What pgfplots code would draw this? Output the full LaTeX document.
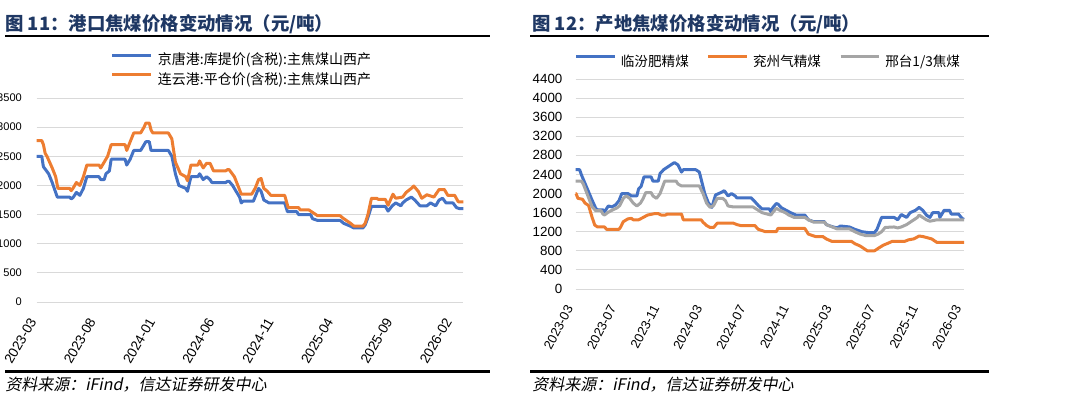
\documentclass[border=0pt]{standalone}
\usepackage{pgfplots}
\pgfplotsset{compat=1.18}
\usepackage{fontspec}
\setmainfont{Liberation Sans}
\newfontfamily\cjk{Noto Sans CJK SC}
\newfontfamily\cjkit[FakeSlant=0.2]{Noto Sans CJK SC}
\definecolor{xblue}{RGB}{68,114,196}
\definecolor{xorange}{RGB}{237,125,49}
\definecolor{xgrey}{RGB}{165,165,165}
\definecolor{gridc}{RGB}{217,217,217}
\definecolor{navy}{RGB}{31,56,100}
\pgfplotsset{
  common/.style={
    scale only axis, anchor=south west,
    axis line style={draw=none}, major tick length=0pt,
    ymajorgrids, grid style={gridc, line width=0.75pt},
    /pgf/number format/assume math mode=true,
    /pgf/number format/1000 sep={},
    scaled y ticks=false,
    clip=false,
    legend cell align=left,
    legend image code/.code={\draw[##1, line width=2.25pt] (0pt,3.6pt) -- (28.9pt,3.6pt);},
    every axis plot/.append style={line width=2.25pt, line join=round, no marks},
  }
}
\begin{document}
\begin{tikzpicture}
\useasboundingbox (0,0) rectangle (817.5pt,-297.75pt);
% titles and rules
\node[anchor=west, inner sep=0pt, text=navy, font=\cjk\bfseries\fontsize{13.8}{15}\selectfont] at (3.75pt,-18.4pt) {图 11：港口焦煤价格变动情况（元/吨）};
\node[anchor=west, inner sep=0pt, text=navy, font=\cjk\bfseries\fontsize{13.8}{15}\selectfont] at (399pt,-18.4pt) {图 12：产地焦煤价格变动情况（元/吨）};
\draw[line width=2pt] (3.75pt,-27pt) -- (367.5pt,-27pt);
\draw[line width=2pt] (397.5pt,-27pt) -- (741.75pt,-27pt);
\draw[line width=2pt] (3.75pt,-278.8pt) -- (367.5pt,-278.8pt);
\draw[line width=2pt] (397.5pt,-278.8pt) -- (741.75pt,-278.8pt);
\node[anchor=west, inner sep=0pt, font=\cjkit\fontsize{12}{13}\selectfont] at (3.75pt,-288.2pt) {资料来源：iFind，信达证券研发中心};
\node[anchor=west, inner sep=0pt, font=\cjkit\fontsize{12}{13}\selectfont] at (399pt,-288.2pt) {资料来源：iFind，信达证券研发中心};

\begin{axis}[common,
  at={(27.4pt,-226.5pt)}, width=320.1pt, height=153pt,
  xmin=0, xmax=35.96, ymin=0, ymax=3500,
  ytick={0,500,...,3500}, xtick={0,5,...,35},
  xticklabels={2023-03,2023-08,2024-01,2024-06,2024-11,2025-04,2025-09,2026-02},
  yticklabel style={font=\fontsize{8.3}{10}\selectfont, xshift=-7.5pt},
  xticklabel style={font=\fontsize{10.2}{11}\selectfont, xshift=-1pt, yshift=-10pt, rotate=60, anchor=east},
  legend style={at={(axis description cs:0,1)}, anchor=south west, xshift=55.85pt, yshift=8.5pt, draw=none, fill=none, inner sep=0pt, outer sep=0pt, row sep=4.5pt, font=\cjk\fontsize{10.5}{12}\selectfont, nodes={inner sep=0pt}, /tikz/every odd column/.append style={column sep=4pt}},
]
\addplot[xblue] coordinates {(0,2500) (0.44,2500) (0.58,2320) (1.02,2200) (1.32,2050) (1.75,1800) (2.78,1800) (2.92,1770) (3.07,1790) (3.36,1880) (3.65,1830) (3.95,1950) (4.24,2150) (5.26,2150) (5.41,2100) (5.70,2100) (5.85,2200) (6.14,2250) (6.29,2450) (7.46,2450) (7.60,2350) (7.89,2450) (8.19,2600) (8.77,2600) (8.92,2650) (9.21,2750) (9.50,2750) (9.65,2600) (11.11,2600) (11.40,2500) (11.70,2200) (11.99,2000) (12.57,1950) (12.72,1900) (13.01,2150) (13.60,2150) (13.74,2200) (14.04,2100) (14.33,2150) (14.62,2100) (14.77,2050) (15.94,2050) (16.08,2070) (16.23,2070) (16.52,2000) (16.81,1900) (17.11,1800) (17.25,1700) (17.40,1730) (18.27,1730) (18.51,1850) (18.71,1950) (18.92,1900) (19.15,1750) (19.59,1700) (20.91,1700) (21.14,1550) (21.93,1550) (22.08,1500) (23.10,1500) (23.25,1430) (23.68,1400) (25.58,1400) (25.88,1350) (26.46,1300) (26.75,1270) (27.49,1270) (27.69,1320) (27.92,1450) (28.22,1640) (29.39,1640) (29.62,1560) (29.97,1650) (30.26,1700) (30.70,1650) (30.85,1700) (31.14,1750) (31.58,1800) (31.87,1750) (32.31,1650) (32.89,1650) (33.19,1700) (33.63,1650) (33.92,1750) (34.21,1780) (34.50,1700) (35.09,1700) (35.38,1620) (35.67,1600) (35.96,1600)};
\addlegendentry{京唐港:库提价(含税):主焦煤山西产}
\addplot[xorange] coordinates {(0,2770) (0.44,2770) (0.58,2700) (0.73,2550) (0.88,2500) (1.32,2300) (1.61,2150) (1.80,1950) (2.78,1950) (2.92,1910) (3.07,1950) (3.36,2050) (3.65,2000) (3.95,2150) (4.24,2350) (5.26,2350) (5.41,2300) (5.70,2400) (5.99,2500) (6.29,2700) (7.46,2700) (7.60,2600) (7.89,2750) (8.19,2900) (8.77,2900) (9.06,3000) (9.21,3070) (9.50,3070) (9.65,2950) (9.80,2900) (11.11,2900) (11.40,2800) (11.70,2400) (12.13,2200) (12.57,2150) (12.72,2080) (13.01,2350) (13.60,2350) (13.74,2420) (14.04,2300) (14.33,2380) (14.62,2380) (14.91,2250) (15.94,2250) (16.08,2270) (16.23,2270) (16.67,2150) (16.96,2000) (17.25,1850) (18.13,1850) (18.42,1950) (18.71,2100) (18.92,2120) (19.15,1950) (19.44,1900) (19.74,1830) (20.91,1830) (21.20,1620) (22.08,1620) (22.22,1580) (22.95,1580) (23.39,1520) (23.68,1480) (25.58,1480) (25.88,1430) (26.46,1350) (26.75,1300) (27.49,1300) (27.69,1350) (27.92,1500) (28.22,1780) (28.65,1780) (28.80,1760) (29.39,1760) (29.62,1660) (30.03,1850) (30.26,1780) (30.85,1800) (31.14,1880) (31.58,1950) (31.78,1990) (32.16,1900) (32.46,1780) (32.89,1840) (33.48,1800) (33.92,1930) (34.36,1930) (34.65,1830) (35.23,1830) (35.53,1720) (35.96,1720)};
\addlegendentry{连云港:平仓价(含税):主焦煤山西产}
\end{axis}

\begin{axis}[common,
  at={(431.8pt,-216.75pt)}, width=291.2pt, height=157.5pt,
  xmin=0, xmax=36, ymin=0, ymax=4400,
  ytick={0,400,...,4400}, xtick={0,4,...,36},
  xticklabels={2023-03,2023-07,2023-11,2024-03,2024-07,2024-11,2025-03,2025-07,2025-11,2026-03},
  yticklabel style={font=\fontsize{10}{11}\selectfont, xshift=-6.5pt},
  xticklabel style={font=\fontsize{9.7}{11}\selectfont, xshift=-3pt, yshift=-10pt, rotate=62, anchor=east},
  legend columns=3,
  legend style={at={(axis description cs:0,1)}, anchor=south west, xshift=-0.8pt, yshift=7.9pt, draw=none, fill=none, inner sep=0pt, outer sep=0pt, font=\cjk\fontsize{10.2}{12}\selectfont, nodes={inner sep=0pt}, /tikz/every odd column/.append style={column sep=3.5pt}, /tikz/every even column/.append style={column sep=13.5pt}},
]
\addplot[xblue] coordinates {(0,2500) (0.36,2500) (0.53,2390) (1.52,1860) (1.86,1690) (2.02,1660) (2.52,1660) (2.68,1620) (3.02,1740) (3.35,1720) (3.68,1760) (4.01,1850) (4.27,2000) (4.84,2000) (5.17,1950) (5.67,1950) (5.83,2100) (6.06,2150) (6.33,2350) (6.99,2350) (7.16,2260) (7.65,2260) (7.82,2420) (8.15,2500) (8.48,2550) (8.81,2600) (9.15,2650) (9.48,2600) (9.81,2450) (9.97,2500) (11.13,2500) (11.46,2450) (11.63,2300) (11.96,2000) (12.29,1810) (12.62,1710) (12.96,1970) (13.45,2020) (13.78,2060) (14.12,1950) (14.45,2000) (14.78,1950) (14.94,1910) (16.27,1910) (16.53,1850) (16.93,1750) (17.27,1680) (17.93,1680) (18.09,1620) (18.26,1700) (18.59,1790) (18.75,1780) (19.09,1700) (19.42,1660) (19.92,1600) (20.41,1550) (21.24,1550) (21.57,1450) (22.07,1410) (23.06,1410) (23.23,1350) (23.72,1310) (24.22,1280) (24.55,1320) (25.38,1300) (25.88,1250) (26.54,1200) (27.20,1180) (27.70,1180) (27.93,1250) (28.36,1500) (29.52,1500) (29.85,1450) (30.19,1560) (30.68,1500) (31.01,1600) (31.51,1650) (31.84,1710) (32.17,1650) (32.51,1550) (32.84,1500) (33.10,1600) (33.67,1600) (33.76,1500) (34.16,1650) (34.66,1650) (34.82,1570) (35.49,1570) (35.82,1480) (36,1460)};
\addlegendentry{临汾肥精煤}
\addplot[xorange] coordinates {(0,2000) (0.03,2000) (0.20,1900) (0.63,1880) (0.86,1800) (1.19,1750) (1.52,1500) (1.76,1340) (2.02,1300) (2.68,1300) (2.85,1250) (4.01,1250) (4.17,1300) (4.41,1410) (4.84,1470) (5.17,1480) (5.33,1450) (5.83,1450) (6.26,1500) (6.66,1550) (7.32,1580) (7.65,1580) (7.92,1550) (8.32,1550) (8.48,1570) (9.81,1570) (9.97,1450) (11.63,1450) (11.80,1400) (12.13,1330) (12.46,1290) (12.79,1290) (13.12,1380) (14.61,1380) (14.94,1350) (15.28,1330) (16.60,1330) (16.93,1250) (17.59,1200) (18.59,1200) (18.75,1270) (21.24,1270) (21.57,1150) (22.23,1100) (22.90,1100) (23.23,1050) (23.72,1000) (25.55,1000) (25.88,950) (26.38,900) (26.71,850) (27.04,800) (27.70,800) (28.03,850) (28.53,920) (28.86,950) (29.36,1000) (30.52,1000) (30.85,1030) (31.35,1050) (31.84,1110) (32.17,1100) (32.51,1080) (33.00,1050) (33.33,1000) (33.50,975) (36,975)};
\addlegendentry{兖州气精煤}
\addplot[xgrey] coordinates {(0,2260) (0.53,2260) (0.70,2200) (1.52,1720) (1.86,1640) (2.35,1640) (2.52,1570) (2.68,1550) (2.95,1600) (3.35,1650) (3.84,1700) (4.08,1750) (4.41,1900) (4.67,1950) (5.00,1900) (5.33,1800) (5.67,1740) (6.00,1800) (6.26,1900) (6.49,2020) (6.99,2020) (7.16,1950) (7.49,1900) (7.82,2000) (8.25,2260) (9.31,2260) (9.48,2200) (9.81,2160) (11.46,2160) (11.80,2000) (12.13,1800) (12.46,1710) (12.79,1750) (13.12,1900) (13.62,1900) (13.88,1850) (14.12,1740) (14.61,1720) (16.43,1720) (16.93,1650) (17.27,1600) (17.76,1570) (18.09,1550) (18.26,1600) (18.59,1690) (18.92,1650) (19.42,1600) (19.75,1550) (20.25,1500) (21.24,1500) (21.57,1450) (22.07,1400) (23.06,1400) (23.23,1350) (23.89,1290) (24.22,1260) (25.38,1260) (25.88,1200) (26.38,1150) (26.87,1120) (27.70,1120) (28.03,1150) (28.36,1200) (28.69,1290) (29.52,1300) (29.85,1280) (30.19,1300) (30.68,1350) (31.01,1400) (31.35,1450) (31.68,1500) (31.84,1550) (32.17,1500) (32.51,1450) (32.84,1420) (33.50,1450) (36,1450)};
\addlegendentry{邢台1/3焦煤}
\end{axis}
\end{tikzpicture}
\end{document}
